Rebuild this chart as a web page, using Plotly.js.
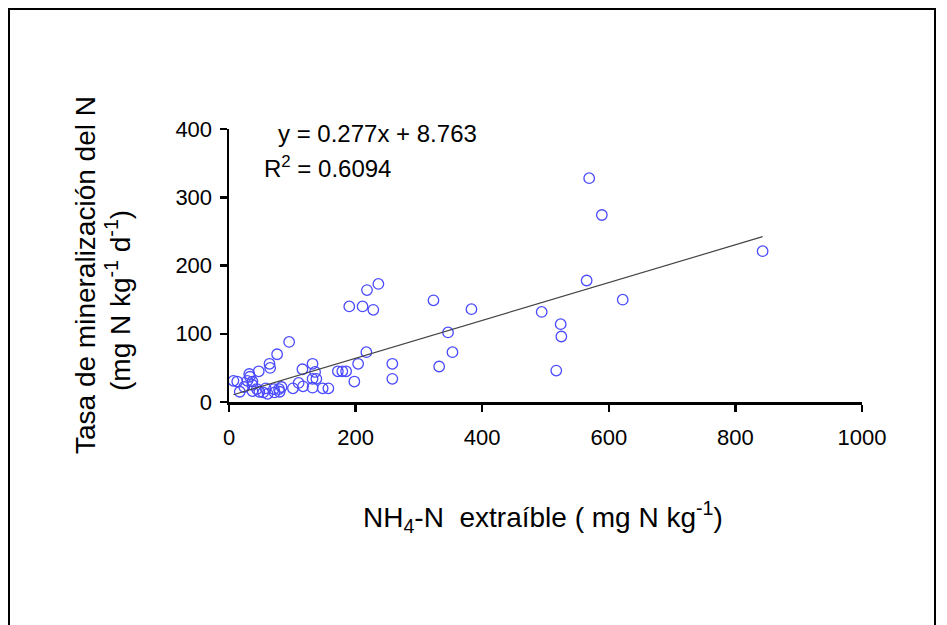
<!DOCTYPE html>
<html><head><meta charset="utf-8">
<script src="https://cdn.plot.ly/plotly-3.0.1.min.js"></script>
<style>
html,body{margin:0;padding:0;background:#fff;overflow:hidden}
#frame{position:absolute;left:8px;top:8px;width:928px;height:640px;border:2px solid #000;box-sizing:border-box}
#plot{position:absolute;left:0;top:0;width:947px;height:625px}
</style></head>
<body>
<div id="frame"></div>
<div id="plot"></div>
<script>
const nh4N = [7,13,17,24,29,32,33,37,37,37,44,47,48,54,58,61,64,65,71,72,76,79,80,83,95,101,110,116,117,132,136,132,138,132,148,157,172,179,185,198,204,217,190,211,218,236,228,258,258,323,332,346,353,383,494,517,524,525,565,569,589,622,843];
const minRate = [31,30,15,22,31,41,37,30,25,16,19,45,15,14,20,12,56,50,19,14,70,19,15,22,88,20,28,48,23,56,44,34,34,21,20,20,45,45,45,30,56,73,140,140,164,173,135,56,34,149,52,102,73,136,132,46,114,96,178,328,274,150,221];
const slope = 0.277, intercept = 8.763;
const xTicks = [0,200,400,600,800,1000];
const yTicks = [0,100,200,300,400];

const xMin = Math.min(...nh4N), xMax = Math.max(...nh4N);
const fitX = [xMin, xMax];
const fitY = fitX.map(v => slope*v + intercept);

const fam = '"Liberation Sans", Arial, sans-serif';
const F = s => ({family:fam, size:s, color:'#000'});
const px = v => (v-229)/633;
const py = v => (402-v)/273;
const data = [
  {x:nh4N, y:minRate, type:'scatter', mode:'markers',
   marker:{symbol:'circle-open', size:10.5, color:'#4a4aff', line:{width:1.3, color:'#4a4aff'}}},
  {x:fitX, y:fitY, type:'scatter', mode:'lines', line:{color:'#444', width:1.2}}
];
const layout = {
  width:947, height:625, showlegend:false,
  paper_bgcolor:'rgba(0,0,0,0)', plot_bgcolor:'rgba(0,0,0,0)',
  margin:{l:229, r:85, t:129, b:223},
  font:F(22),
  xaxis:{range:[0,1000], tickvals:xTicks, ticktext:xTicks.map(String), showgrid:false, zeroline:false,
    showline:true, linecolor:'#000', linewidth:2.5, ticks:'outside', ticklen:7, tickwidth:2.5, tickcolor:'#000',
    ticklabelstandoff:7, tickfont:F(22)},
  yaxis:{range:[0,400], tickvals:yTicks, ticktext:yTicks.map(String), showgrid:false, zeroline:false,
    showline:true, linecolor:'#000', linewidth:2.5, ticks:'outside', ticklen:7, tickwidth:2.5, tickcolor:'#000',
    ticklabelstandoff:3, tickfont:F(22)},
  annotations:[
    {text:'y = 0.277x + 8.763', xref:'paper', yref:'paper', x:px(276), y:py(133), xanchor:'left', yanchor:'middle', showarrow:false, font:F(24)},
    {text:'R<sup>2</sup> = 0.6094', xref:'paper', yref:'paper', x:px(262), y:py(167), xanchor:'left', yanchor:'middle', showarrow:false, font:F(24)},
    {text:'NH<sub>4</sub>-N  extraíble ( mg N kg<sup>-1</sup>)', xref:'paper', yref:'paper', x:px(543), y:py(517), xanchor:'center', yanchor:'middle', showarrow:false, font:F(28)},
    {text:'Tasa de mineralización del N', xref:'paper', yref:'paper', x:px(85), y:py(275), xanchor:'center', yanchor:'middle', textangle:-90, showarrow:false, font:F(28)},
    {text:'(mg N kg<sup>-1</sup> d<sup>-1</sup>)', xref:'paper', yref:'paper', x:px(118), y:py(301), xanchor:'center', yanchor:'middle', textangle:-90, showarrow:false, font:F(28)}
  ]
};
Plotly.newPlot('plot', data, layout, {staticPlot:true});
</script>
</body></html>
